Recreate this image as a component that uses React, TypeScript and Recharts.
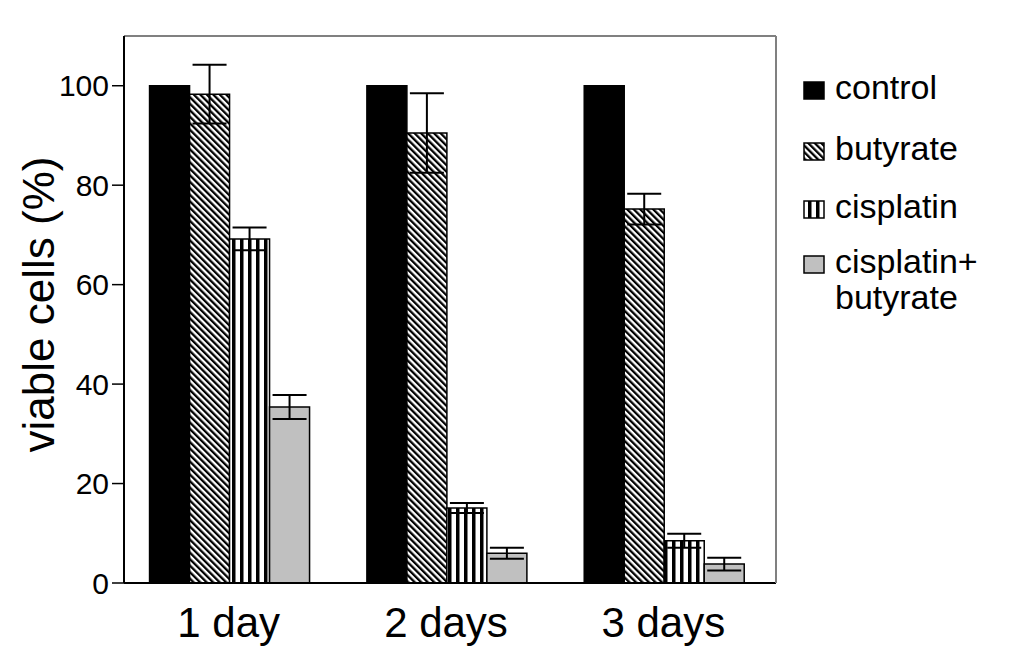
import { BarChart, Bar, XAxis, YAxis, ErrorBar, ReferenceLine } from 'recharts';

const categories = ['1 day', '2 days', '3 days'];
const control = [100, 100, 100];
const butyrate = [98.3, 90.5, 75.2];
const butyrateErr = [5.9, 8, 3.1];
const cisplatin = [69.2, 15.1, 8.5];
const cisplatinErr = [2.3, 1.0, 1.4];
const combo = [35.4, 6.0, 3.8];
const comboErr = [2.4, 1.1, 1.3];
const yTicks = [0, 20, 40, 60, 80, 100];
const yMax = 110;

const series = [
  { key: 'control', label: ['control'], fill: '#000000', err: null },
  { key: 'butyrate', label: ['butyrate'], fill: 'url(#diag)', err: 'butyrateErr' },
  { key: 'cisplatin', label: ['cisplatin'], fill: 'url(#vert)', err: 'cisplatinErr' },
  { key: 'combo', label: ['cisplatin+', 'butyrate'], fill: '#c0c0c0', err: 'comboErr' },
];

const data = categories.map((day, i) => ({
  day,
  control: control[i],
  butyrate: butyrate[i],
  butyrateErr: butyrateErr[i],
  cisplatin: cisplatin[i],
  cisplatinErr: cisplatinErr[i],
  combo: combo[i],
  comboErr: comboErr[i],
}));

const FONT = '"Liberation Sans", Arial, Helvetica, sans-serif';
const W = 1012;
const H = 647;

function YLabel({ viewBox }: any) {
  const x = viewBox.x + 46;
  const y = viewBox.y + viewBox.height / 2 - 5;
  return (
    <text
      x={x}
      y={y}
      transform={`rotate(-90, ${x}, ${y})`}
      textAnchor="middle"
      fontSize={44}
      fontFamily={FONT}
      fill="#000"
    >
      viable cells (%)
    </text>
  );
}

function LegendBox() {
  const bases = [91, 152, 210, 265];
  return (
    <svg width={W} height={H} style={{ position: 'absolute', left: 0, top: 0, pointerEvents: 'none' }}>
      {series.map((s, i) => {
        const base = bases[i];
        return (
          <g key={s.key}>
            <rect x={796} y={base - 17} width={20} height={17} fill={s.fill} stroke="#000" strokeWidth={1.5} />
            {s.label.map((t, j) => (
              <text key={j} x={827} y={base + j * 36} fontSize={34} fontFamily={FONT} fill="#000">
                {t}
              </text>
            ))}
          </g>
        );
      })}
    </svg>
  );
}

export default function App() {
  return (
    <div style={{ position: 'relative', width: W, height: H }}>
      <BarChart
        width={W}
        height={H}
        data={data}
        margin={{ top: 27, right: 243, bottom: 12, left: 0 }}
        barCategoryGap="13.6%"
        barGap={0}
      >
        <defs>
          <pattern id="diag" patternUnits="userSpaceOnUse" width={4.6} height={4.6} patternTransform="rotate(-45)">
            <rect width={4.6} height={4.6} fill="#fff" />
            <rect width={2.3} height={4.6} fill="#000" />
          </pattern>
          <pattern id="vert" patternUnits="userSpaceOnUse" width={8} height={8}>
            <rect width={8} height={8} fill="#fff" />
            <rect width={3.5} height={8} fill="#000" />
          </pattern>
        </defs>
        <XAxis
          dataKey="day"
          padding={{ left: -4, right: 4 }}
          axisLine={{ stroke: '#000', strokeWidth: 2 }}
          tickLine={false}
          tickSize={12}
          tickMargin={12}
          height={60}
          tick={{ fill: '#000', fontSize: 42, fontFamily: FONT }}
        />
        <XAxis
          xAxisId="top"
          orientation="top"
          dataKey="day"
          height={1}
          tick={false}
          tickLine={false}
          axisLine={{ stroke: '#808080', strokeWidth: 2 }}
        />
        <YAxis
          domain={[0, yMax]}
          ticks={yTicks}
          width={116}
          axisLine={{ stroke: '#000', strokeWidth: 2 }}
          tickLine={{ stroke: '#000', strokeWidth: 1.5 }}
          tickSize={12}
          tickMargin={3}
          tick={{ fill: '#000', fontSize: 30, fontFamily: FONT }}
          label={<YLabel />}
        />
        <YAxis
          yAxisId="right"
          orientation="right"
          domain={[0, yMax]}
          width={1}
          tick={false}
          tickLine={false}
          axisLine={{ stroke: '#808080', strokeWidth: 2 }}
        />
        <ReferenceLine y={yMax} stroke="#808080" strokeWidth={2} />
        {series.map((s) => (
          <Bar
            key={s.key}
            dataKey={s.key}
            fill={s.fill}
            stroke="#000"
            strokeWidth={1.5}
            isAnimationActive={false}
          >
            {s.err && (
              <ErrorBar dataKey={s.err} width={17} stroke="#000" strokeWidth={2} isAnimationActive={false} />
            )}
          </Bar>
        ))}
      </BarChart>
      <LegendBox />
    </div>
  );
}
